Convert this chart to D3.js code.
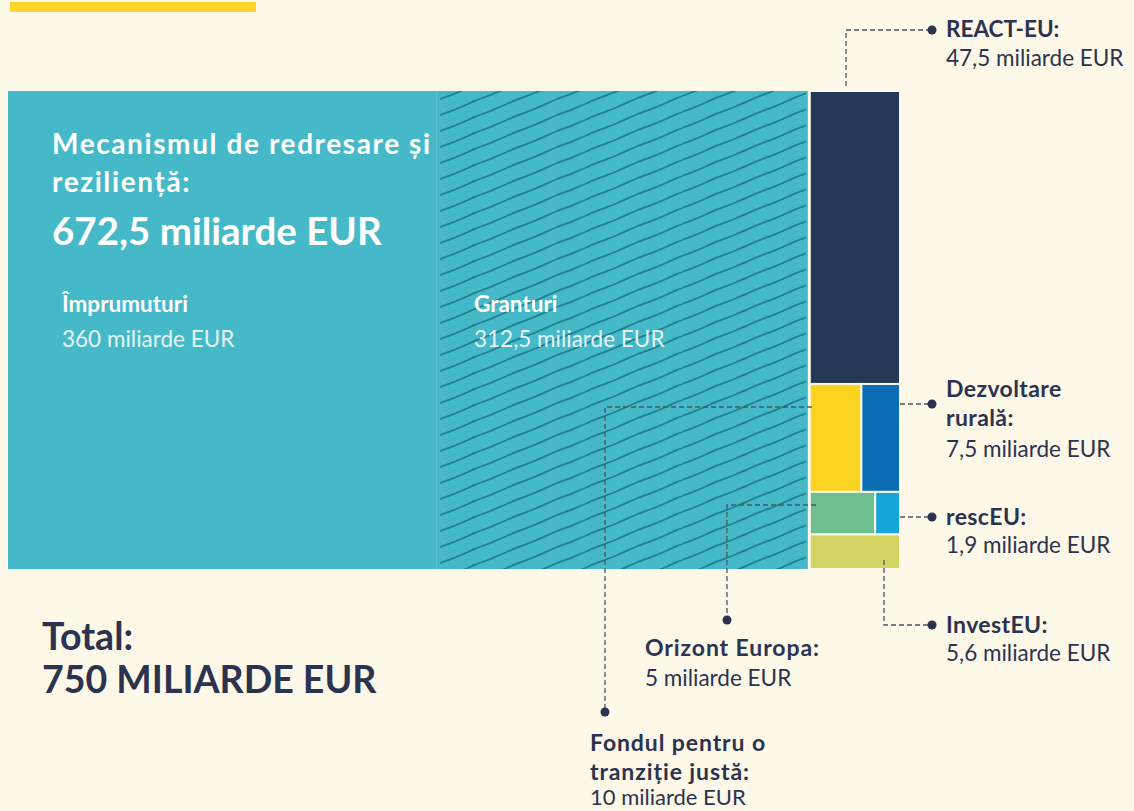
<!DOCTYPE html>
<html>
<head>
<meta charset="utf-8">
<script src="https://cdn.jsdelivr.net/npm/d3@7"></script>
<style>
  body { margin: 0; background: #fdf8e7; }
  svg { display: block; }
  text { font-family: Lato, sans-serif; }
</style>
</head>
<body>
<script>
// fund names and amounts (miliarde EUR)
const funds = ["RRF", "REACT-EU", "JTF", "Dezvoltare rurală", "Orizont Europa", "rescEU", "InvestEU"]
const amounts = [672.5, 47.5, 10, 7.5, 5, 1.9, 5.6]
const fundColors = ["#46b9c9", "#263857", "#fcd320", "#0b6db5", "#6dbf92", "#15a5d8", "#d3d462"]
// rows of the small column, top to bottom
const rows = [["REACT-EU"], ["JTF", "Dezvoltare rurală"], ["Orizont Europa", "rescEU"], ["InvestEU"]]
const rrfParts = ["Împrumuturi", "Granturi"]
const rrfAmounts = [360, 312.5]
const total = 750

const m = { width: 1134, height: 811 }
const navy = "#2b3350"
const fmt = v => String(v).replace(".", ",")
const val = f => amounts[funds.indexOf(f)]
const col = f => fundColors[funds.indexOf(f)]

const svg = d3.select("body").append("svg")
  .attr("width", m.width)
  .attr("height", m.height)

// yellow accent bar at the top
svg.append("rect")
  .attr("x", 10).attr("y", 2).attr("width", 246).attr("height", 10)
  .attr("fill", "#fdd52b")

const yTop = 91, yBot = 569
const x = d3.scaleLinear().domain([0, total]).range([8, 900])

// big block: loans + grants
const xr = d3.scaleLinear().domain([0, d3.sum(rrfAmounts)]).range([x(0), x(amounts[0])])
const parts = rrfParts.map((p, i) => ({ name: p, v: rrfAmounts[i], x0: d3.sum(rrfAmounts.slice(0, i)) }))

svg.selectAll(".rrf")
  .data(parts)
  .enter()
  .append("rect")
    .attr("x", d => xr(d.x0))
    .attr("y", yTop)
    .attr("width", d => xr(d.x0 + d.v) - xr(d.x0))
    .attr("height", yBot - yTop)
    .attr("fill", fundColors[0])

// wavy hatch on the grants part
const gx0 = xr(rrfAmounts[0]), gx1 = xr(d3.sum(rrfAmounts))
svg.append("clipPath").attr("id", "gclip")
  .append("rect")
    .attr("x", gx0 + 4).attr("y", yTop).attr("width", gx1 - gx0 - 6).attr("height", yBot - yTop)

const wave = d3.line().curve(d3.curveBasis)
const hatch = svg.append("g").attr("clip-path", "url(#gclip)")
d3.range(yTop - 6, yBot + 170, 16).forEach(y0 => {
  const pts = d3.range(0, 21).map(k => {
    const px = gx0 + k * 20
    return [px, y0 - (px - gx0) * 0.41 + (k % 2 ? 0.8 : -0.8)]
  })
  hatch.append("path")
    .attr("d", wave(pts))
    .attr("fill", "none")
    .attr("stroke", "#21808f")
    .attr("stroke-width", 1.8)
})

// small column
const y = d3.scaleLinear().domain([0, total - amounts[0]]).range([yTop, yBot])
const cx0 = x(amounts[0]) + 2, cx1 = x(total)
const cells = []
let acc = 0
rows.forEach(r => {
  const rs = d3.sum(r, val)
  const xs = d3.scaleLinear().domain([0, rs]).range([cx0, cx1])
  let a = 0
  r.forEach(f => {
    cells.push({ f: f, x0: xs(a), x1: xs(a + val(f)), y0: y(acc), y1: y(acc + rs) })
    a += val(f)
  })
  acc += rs
})

svg.selectAll(".cell")
  .data(cells)
  .enter()
  .append("rect")
    .attr("x", d => d.x0)
    .attr("y", d => d.y0)
    .attr("width", d => d.x1 - d.x0)
    .attr("height", d => d.y1 - d.y0)
    .attr("fill", d => col(d.f))
    .attr("stroke", "#fdf8e7")
    .attr("stroke-width", 2)

// leader lines
const leaders = [
  [[846, 86], [846, 30], [932, 30]],
  [[900, 404], [932, 404]],
  [[900, 517], [932, 517]],
  [[884, 560], [884, 625], [932, 625]],
  [[816, 505], [727, 505], [727, 620]],
  [[812, 407], [605, 407], [605, 712]]
]
leaders.forEach(l => {
  svg.append("path")
    .attr("d", d3.line()(l))
    .attr("fill", "none")
    .attr("stroke", "#4d5566")
    .attr("stroke-width", 1.3)
    .attr("stroke-dasharray", "5,3")
  const e = l[l.length - 1]
  svg.append("circle").attr("cx", e[0]).attr("cy", e[1]).attr("r", 4.5).attr("fill", navy)
})

// text helper: [baseline, text, size, bold, colour, letter-spacing]
function label(xp, lines) {
  const t = svg.append("text").attr("fill", navy)
  lines.forEach(l => {
    t.append("tspan")
      .attr("x", xp).attr("y", l[0])
      .attr("font-size", l[2] || 22.5)
      .attr("font-weight", l[3] ? 700 : 400)
      .attr("fill", l[4] || navy)
      .attr("letter-spacing", l[5] || 0)
      .text(l[1])
  })
}

const mld = " miliarde EUR"
label(946, [[37, "REACT-EU:", 22.5, true], [66, fmt(val("REACT-EU")) + mld]])
label(946, [[397, "Dezvoltare", 23, true, null, 0.4], [426, "rurală:", 23, true, null, 0.4], [457, fmt(val("Dezvoltare rurală")) + mld]])
label(946, [[525, "rescEU:", 23, true, null, 0.4], [553, fmt(val("rescEU")) + mld]])
label(946, [[633, "InvestEU:", 23, true, null, 0.4], [661, fmt(val("InvestEU")) + mld]])
label(645, [[656, "Orizont Europa:", 23, true, null, 0.9], [686, fmt(val("Orizont Europa")) + mld]])
label(590, [[751, "Fondul pentru o", 23, true, null, 0.9], [780, "tranziție justă:", 23, true, null, 0.9], [805, fmt(val("JTF")) + mld, 22]])

// inside the big block
label(52, [[154, "Mecanismul de redresare și", 28, true, "#ffffff", 1.6],
           [192, "reziliență:", 28, true, "#ffffff", 1.6],
           [245, fmt(amounts[0]) + mld, 38.5, true, "#ffffff"]])
label(62, [[312, rrfParts[0], 22.5, true, "#ffffff"], [347, fmt(rrfAmounts[0]) + mld, 22.5, false, "#e4f5f7"]])
label(474, [[312, rrfParts[1], 22.5, true, "#ffffff"], [347, fmt(rrfAmounts[1]) + mld, 22.5, false, "#e4f5f7"]])

// total
label(42, [[650, "Total:", 37.5, true], [693, total + " MILIARDE EUR", 37.5, true]])
</script>
</body>
</html>
